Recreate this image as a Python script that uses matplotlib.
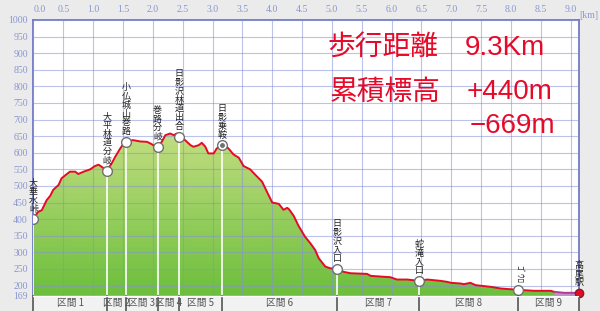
"""Elevation profile: 大垂水峠 -> 高尾駅"""

import numpy as np
import matplotlib
matplotlib.use("Agg")
import matplotlib.pyplot as plt
from matplotlib.colors import LinearSegmentedColormap
from matplotlib.patches import Rectangle

plt.rcParams["font.family"] = ["Noto Sans CJK JP", "DejaVu Sans"]

# profile (km, m)
dist = [0.00, 0.05, 0.08, 0.14, 0.22, 0.28, 0.33, 0.42, 0.47, 0.56, 0.61, 0.70,
        0.75, 0.84, 0.95, 1.03, 1.09, 1.14, 1.20, 1.23, 1.31, 1.37, 1.45, 1.50,
        1.55, 1.60, 1.67, 1.79, 1.90, 1.98, 2.04, 2.08, 2.15, 2.21, 2.29, 2.35,
        2.40, 2.44, 2.54, 2.63, 2.68, 2.77, 2.82, 2.88, 2.93, 3.02, 3.07, 3.16,
        3.24, 3.30, 3.35, 3.44, 3.52, 3.63, 3.72, 3.83, 3.91, 4.00, 4.11, 4.19,
        4.25, 4.28, 4.36, 4.44, 4.55, 4.64, 4.72, 4.78, 4.89, 4.97, 5.09, 5.20,
        5.31, 5.59, 5.65, 5.98, 6.09, 6.26, 6.46, 6.60, 6.82, 6.93, 7.00, 7.16,
        7.21, 7.32, 7.41, 7.66, 7.83, 8.12, 8.39, 8.67, 8.72, 8.89, 9.14]
elev = [400, 415, 422, 427, 457, 470, 488, 503, 523, 536, 543, 543,
        536, 543, 550, 560, 564, 558, 550, 546, 568, 588, 612, 625,
        633, 636, 638, 634, 633, 626, 618, 618, 633, 653, 658, 653,
        658, 648, 638, 623, 618, 623, 630, 618, 598, 598, 613, 623,
        618, 606, 595, 585, 560, 550, 533, 513, 483, 450, 446, 428,
        434, 430, 410, 380, 347, 327, 307, 282, 257, 252, 250, 241,
        237, 235, 229, 225, 218, 218, 214, 218, 214, 211, 208, 206,
        204, 208, 201, 196, 191, 187, 184, 184, 181, 178, 178]

# waypoints
wp_names = ["大垂水峠", "大平林道分岐", "小仏城山巻路", "巻路分岐", "日影沢林道出合",
            "日影乗鞍", "日影沢入口", "蛇滝入口", "ｺﾞｳﾛ", "高尾駅"]
wp_dist = [0.00, 1.23, 1.55, 2.08, 2.44, 3.16, 5.09, 6.46, 8.12, 9.14]
wp_elev = [400, 546, 633, 618, 648, 623, 250, 214, 187, 178]

sections = ["区間 1", "区間 2", "区間 3", "区間 4", "区間 5",
            "区間 6", "区間 7", "区間 8", "区間 9"]

y_min, y_max = 169, 1000
x_max = 9.14
tick_col = "#8a96d0"
spine_col = "#6670c0"
red = "#e60a28"

fig = plt.figure(figsize=(6, 3.11), dpi=100, facecolor="#ebebeb")
ax = fig.add_axes([0.0558, 0.0489, 0.9092, 0.8868])
ax.set_facecolor("white")

# gradient fill under the profile
cmap = LinearSegmentedColormap.from_list("g", ["#6cbf3c", "#c4de82"])
grad = np.linspace(0, 1, 256).reshape(-1, 1)
poly = ax.fill_between(dist, elev, y_min, facecolor="none", edgecolor="none")
im = ax.imshow(grad, extent=[0, x_max, y_min, 670], origin="lower",
               aspect="auto", cmap=cmap, zorder=1)
im.set_clip_path(poly.get_paths()[0], transform=ax.transData)

# last stretch in purple
k = dist.index(8.72)
ax.fill_between(dist[k:], elev[k:], y_min, color="#c090c8", zorder=1.5, lw=0)
ax.plot(dist[:k + 1], elev[:k + 1], color=red, lw=1.4, zorder=4)
ax.plot(dist[k:], elev[k:], color="#b03c98", lw=1.4, zorder=4)

# grid
ax.set_yticks([169] + list(range(200, 1001, 50)))
ax.set_xticks(np.arange(0, 9.01, 0.5))
ax.grid(True, color="#8890d8", lw=0.8, alpha=0.55)
ax.set_axisbelow(False)
ax.xaxis.tick_top()
ax.set_xticklabels([f"{v:.1f}" for v in np.arange(0, 9.01, 0.5)])
ax.tick_params(length=0, labelsize=7, colors=tick_col, pad=4)
for lab in ax.get_xticklabels() + ax.get_yticklabels():
    lab.set_fontfamily("Liberation Serif")
ax.get_xticklabels()[0].set_horizontalalignment("left")
ax.text(1.0, 1.0, "[km]", transform=ax.transAxes, fontsize=7, color=tick_col,
        family="Liberation Serif", ha="left", va="bottom")
ax.set_xlim(0, x_max)
ax.set_ylim(y_min, y_max)
for s in ["left", "top", "right"]:
    ax.spines[s].set_color(spine_col)
    ax.spines[s].set_linewidth(1.2)
ax.spines["bottom"].set_visible(False)

# waypoints
for name, x, y in zip(wp_names, wp_dist, wp_elev):
    ax.plot([x, x], [y_min, y], color="white", lw=1.2, zorder=3)
    if name == "高尾駅":
        ax.plot(x, y, "o", ms=6, mfc=red, mec="#802020", zorder=5, clip_on=False)
    else:
        ax.plot(x, y, "o", ms=7, mfc="white", mec="#707070", mew=1, zorder=5)
    if name == "日影乗鞍":
        ax.plot(x, y, "o", ms=2.5, mfc="#707070", mec="#707070", zorder=6)
    if name == "ｺﾞｳﾛ":
        ax.annotate(name, (x, y), xytext=(0, 5), textcoords="offset points",
                    ha="center", va="bottom", rotation=-90, fontsize=6.5,
                    color="#333333", annotation_clip=False, zorder=6)
    else:
        ax.annotate("\n".join(name), (x, y), xytext=(0, 4), textcoords="offset points",
                    ha="center", va="bottom", fontsize=6.5, linespacing=0.98,
                    color="#222222", annotation_clip=False, zorder=6)

# section strip
sx = fig.add_axes([0.0558, 0.0, 0.9092, 0.0489])
sx.set_xlim(0, x_max)
sx.set_ylim(0, 1)
sx.set_facecolor("#f2f2f2")
sx.axis("off")
sx.add_patch(Rectangle((0, 0), x_max, 1, facecolor="#f2f2f2", edgecolor="none"))
bounds = wp_dist
for i, name in enumerate(sections):
    a, b = bounds[i], bounds[i + 1]
    cell = Rectangle((a, 0), b - a, 1, transform=sx.transData, facecolor="none",
                     edgecolor="none")
    sx.add_patch(cell)
    t = sx.text((a + b) / 2, 0.5, name, ha="center", va="center", fontsize=7,
                color="#555555")
    t.set_clip_path(cell)
for x in bounds:
    sx.plot([x, x], [0, 1], color="#555555", lw=1.2, clip_on=False)
sx.plot([0, x_max], [1, 1], color="white", lw=1)

# summary text
big = dict(fontsize=20, color=red, va="center", ha="left")
fig.text(0.545, 0.846, "歩行距離", **big)
fig.text(0.775, 0.846, "9.3Km", family="Liberation Sans", **big)
fig.text(0.550, 0.704, "累積標高", **big)
fig.text(0.778, 0.704, "+440m", family="Liberation Sans", **big)
fig.text(0.783, 0.595, "\u2212669m", family="Liberation Sans", **big)

fig.savefig("out.png", dpi=100, facecolor=fig.get_facecolor())
